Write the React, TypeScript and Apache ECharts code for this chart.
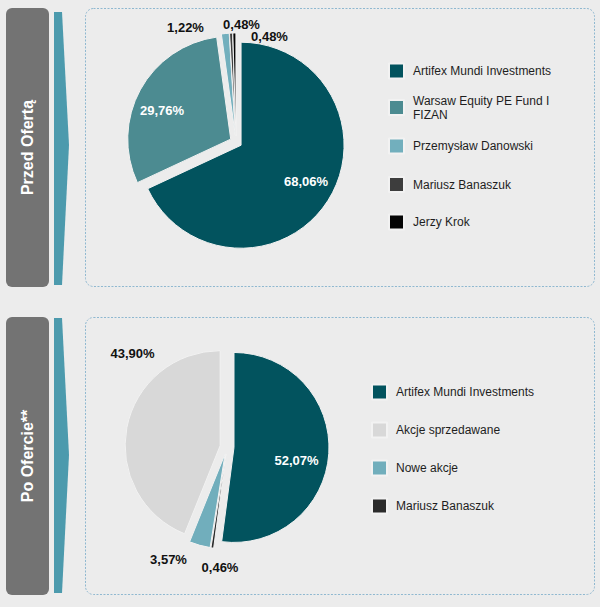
import React, { useEffect, useRef } from "react";
import * as echarts from "echarts";

// ---- data ----
const topNames = [
  "Artifex Mundi Investments",
  "Warsaw Equity PE Fund I FIZAN",
  "Przemysław Danowski",
  "Mariusz Banaszuk",
  "Jerzy Krok",
];
const topValues = [68.06, 29.76, 1.22, 0.48, 0.48];
const topLabels = ["68,06%", "29,76%", "1,22%", "0,48%", "0,48%"];

// drawing order (clockwise from 12 o'clock)
const bottomNames = ["Artifex Mundi Investments", "Mariusz Banaszuk", "Nowe akcje", "Akcje sprzedawane"];
const bottomValues = [52.07, 0.46, 3.57, 43.9];
const bottomLabels = ["52,07%", "0,46%", "3,57%", "43,90%"];
// legend order
const bottomLegendOrder = ["Artifex Mundi Investments", "Akcje sprzedawane", "Nowe akcje", "Mariusz Banaszuk"];

const sectionTitles = ["Przed Ofertą", "Po Ofercie**"];

// ---- styles / layout ----
const topColors = ["#02535e", "#4c8b91", "#72afbd", "#3d3d3d", "#050505"];
const bottomColors = ["#02535e", "#2b2b2b", "#71aebc", "#d8d8d8"];
const topLabelColors = ["#ffffff", "#ffffff", "#111111", "#111111", "#111111"];
const bottomLabelColors = ["#ffffff", "#111111", "#111111", "#111111"];
// label centres (layout, page pixels)
const topLabelPos = [
  [306, 181.5],
  [162, 110],
  [185.5, 27.5],
  [241.5, 24],
  [269.5, 36.5],
];
const bottomLabelPos = [
  [296.5, 460],
  [220, 567.5],
  [168.5, 559.5],
  [132.5, 353.5],
];
const topLegendCenters = [70, 107.5, 145, 183.5, 221];
const bottomLegendCenters = [391, 429, 467, 505];

const FONT = "'Liberation Sans', Arial, sans-serif";

export default function App() {
  const ref = useRef<HTMLDivElement>(null);
  useEffect(() => {
    if (!ref.current) return;
    const chart = echarts.init(ref.current, undefined, { renderer: "svg" });

    const legendTextStyle = {
      fontFamily: FONT,
      fontSize: 12,
      color: "#1e1e1e",
      lineHeight: 14,
      padding: [0, 0, 0, 4],
    };

    const legends: any[] = [];
    topNames.forEach((n, i) => {
      const twoLine = n.startsWith("Warsaw");
      legends.push({
        show: true,
        left: 388,
        top: topLegendCenters[i] - (twoLine ? 14 : 7.5),
        orient: "vertical",
        icon: "rect",
        itemWidth: 15,
        itemHeight: 15,
        selectedMode: false,
        padding: 0,
        textStyle: legendTextStyle,
        formatter: (name: string) =>
          name === "Warsaw Equity PE Fund I FIZAN" ? "Warsaw Equity PE Fund I\nFIZAN" : name,
        data: [{ name: n, itemStyle: { color: topColors[i] } }],
      });
    });
    bottomLegendOrder.forEach((n, i) => {
      const idx = bottomNames.indexOf(n);
      legends.push({
        show: true,
        left: 371,
        top: bottomLegendCenters[i] - 7.5,
        orient: "vertical",
        icon: "rect",
        itemWidth: 15,
        itemHeight: 15,
        selectedMode: false,
        padding: 0,
        textStyle: legendTextStyle,
        data: [{ name: n, itemStyle: { color: bottomColors[idx] } }],
      });
    });

    // visible, exploded pie (every slice selected -> offset along its bisector)
    const slices = (names: string[], values: number[], colors: string[], center: number[], radius: number, offset: number) => ({
      type: "pie",
      center,
      radius,
      startAngle: 90,
      clockwise: true,
      selectedMode: "multiple",
      selectedOffset: offset,
      emphasis: { disabled: true },
      itemStyle: { borderColor: "#f2f2f2", borderWidth: 1 },
      label: { show: false },
      labelLine: { show: false },
      data: names.map((n, i) => ({
        name: n,
        value: values[i],
        selected: true,
        itemStyle: { color: colors[i] },
      })),
    });

    // transparent twin carrying the value labels
    const labelsSeries = (
      names: string[],
      values: number[],
      labels: string[],
      labelColors: string[],
      labelPos: number[][],
      center: number[],
      radius: number
    ) => ({
      type: "pie",
      center,
      radius,
      startAngle: 90,
      clockwise: true,
      silent: true,
      legendHoverLink: false,
      selectedMode: false,
      avoidLabelOverlap: false,
      emphasis: { disabled: true },
      itemStyle: { color: "rgba(0,0,0,0)", borderWidth: 0 },
      labelLine: { show: false },
      labelLayout: (p: any) => ({
        x: labelPos[p.dataIndex][0],
        y: labelPos[p.dataIndex][1],
        align: "center",
        verticalAlign: "middle",
      }),
      data: names.map((n, i) => ({
        name: n,
        value: values[i],
        label: {
          show: true,
          position: "inside",
          formatter: labels[i],
          color: labelColors[i],
          fontFamily: FONT,
          fontWeight: "bold",
          fontSize: 13,
        },
      })),
    });

    const tab = (y: number, h: number, title: string, arrowPts: number[][]) => [
      {
        type: "rect",
        shape: { x: 6, y, width: 43, height: h, r: 6 },
        style: { fill: "#737373" },
        silent: true,
      },
      {
        type: "text",
        x: 27.5,
        y: y + h / 2,
        rotation: Math.PI / 2,
        style: {
          text: title,
          fill: "#ffffff",
          font: `bold 16px ${FONT}`,
          textAlign: "center",
          textVerticalAlign: "middle",
        },
        silent: true,
      },
      {
        type: "polygon",
        shape: { points: arrowPts },
        style: { fill: "#4c9aad" },
        silent: true,
      },
      {
        type: "rect",
        shape: { x: 85.5, y: y + 0.5, width: 509, height: h - 1, r: 8 },
        style: { fill: "none", stroke: "#8fb8d0", lineWidth: 1, lineDash: [2, 1.5] },
        silent: true,
      },
    ];

    chart.setOption({
      animation: false,
      backgroundColor: "#ececec",
      legend: legends,
      graphic: [
        ...tab(8, 279, sectionTitles[0], [
          [54, 12],
          [62, 12],
          [69, 145],
          [62, 285],
          [54, 285],
        ]),
        ...tab(317, 278, sectionTitles[1], [
          [54, 318],
          [62, 318],
          [69, 455],
          [62, 593],
          [54, 593],
        ]),
      ],
      series: [
        slices(topNames, topValues, topColors, [236, 142], 103, 6),
        slices(bottomNames, bottomValues, bottomColors, [227, 447], 95, 7),
        labelsSeries(topNames, topValues, topLabels, topLabelColors, topLabelPos, [236, 142], 103),
        labelsSeries(bottomNames, bottomValues, bottomLabels, bottomLabelColors, bottomLabelPos, [227, 447], 95),
      ],
    });
    return () => chart.dispose();
  }, []);
  return (
    <div
      ref={ref}
      style={{ position: "absolute", left: 0, top: 0, width: 600, height: 607 }}
    />
  );
}
